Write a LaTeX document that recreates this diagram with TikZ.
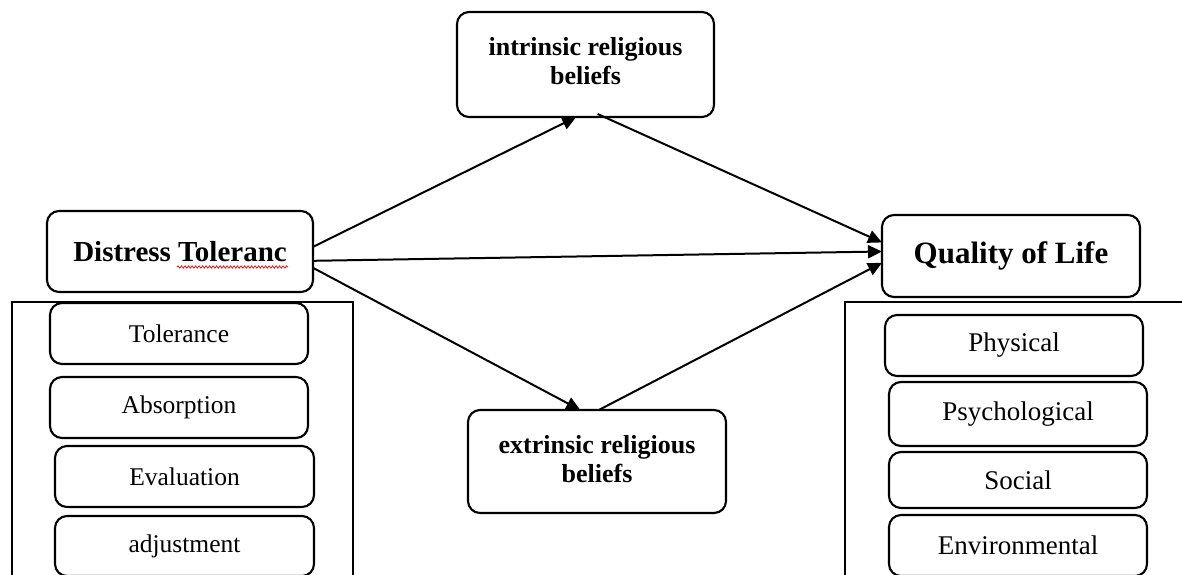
\documentclass[tikz,border=0pt]{standalone}
\usepackage{fontspec}
\setmainfont{Liberation Serif}
\usetikzlibrary{arrows.meta,decorations.pathmorphing}
\begin{document}
\begin{tikzpicture}[x=1pt,y=-1pt,
  rbox/.style={draw=black, line width=2.1pt, rounded corners=12pt, fill=white, inner sep=0pt, outer sep=0pt, align=center},
  subleft/.style={rbox, font=\fontsize{25.5}{28}\selectfont},
  subright/.style={rbox, font=\fontsize{27}{28}\selectfont},
  mainlbl/.style={font=\bfseries\fontsize{26}{29}\selectfont, align=center, inner sep=0pt},
  conn/.style={line width=2pt, -{Triangle[length=14pt,width=13pt]}},
  panel/.style={line width=1.8pt}
]
\useasboundingbox (0,0) rectangle (1182,574);
\clip (0,0) rectangle (1182,574);
\fill[white] (0,0) rectangle (1182,574);

% panels
\draw[panel] (12,580) -- (12,302) -- (353,302) -- (353,580);
\draw[panel] (845,580) -- (845,302) -- (1190,302);

% main boxes
\node[rbox, minimum width=266pt, minimum height=81pt, font=\bfseries\fontsize{29}{32}\selectfont] (dt) at (180,251.5) {Distress Toleranc};
\node[rbox, minimum width=258pt, minimum height=82pt, font=\bfseries\fontsize{31}{34}\selectfont] (ql) at (1011,256) {Quality of Life};
\node[rbox, minimum width=257pt, minimum height=105pt] (ib) at (585.5,64.5) {};
\node[mainlbl] (ibt) at (585.5,61) {intrinsic religious\\beliefs};
\node[rbox, minimum width=258pt, minimum height=103pt] (eb) at (597,461.5) {};
\node[mainlbl] (ebt) at (597,459) {extrinsic religious\\beliefs};

% spell-check underline
\draw[red, line width=0.7pt, decorate, decoration={snake, amplitude=1.2pt, segment length=3.5pt}] (177,267) -- (288,267);

% left sub boxes
\node[subleft, minimum width=258pt, minimum height=61pt] (tol) at (179,333.5) {Tolerance};
\node[subleft, minimum width=258pt, minimum height=61pt] (abs) at (179,407.5) {Absorption};
\node[subleft, minimum width=259pt, minimum height=61pt] (eva) at (184.5,476.5) {Evaluation};
\node[subleft, minimum width=259pt, minimum height=60pt] (adj) at (184.5,546) {adjustment};

% right sub boxes
\node[subright, minimum width=258pt, minimum height=61pt] (phy) at (1014,345.5) {Physical};
\node[subright, minimum width=258pt, minimum height=64pt] (psy) at (1018,414) {Psychological};
\node[subright, minimum width=258pt, minimum height=56pt] (soc) at (1018,480) {Social};
\node[subright, minimum width=258pt, minimum height=61pt] (env) at (1018,545.5) {Environmental};

% connectors
\draw[conn] (dt.2.8) -- (ib.260.8);
\path (ib.283.4) ++(0,-3) coordinate (ibs);
\draw[conn] (ibs) -- (ql.174.2);
\draw[conn] (dt.-4.5) -- (ql.178.7);
\draw[conn] (dt.-7.9) -- (eb.108.3);
\draw[conn] (eb.88.9) -- (ql.183.5);
\end{tikzpicture}
\end{document}
